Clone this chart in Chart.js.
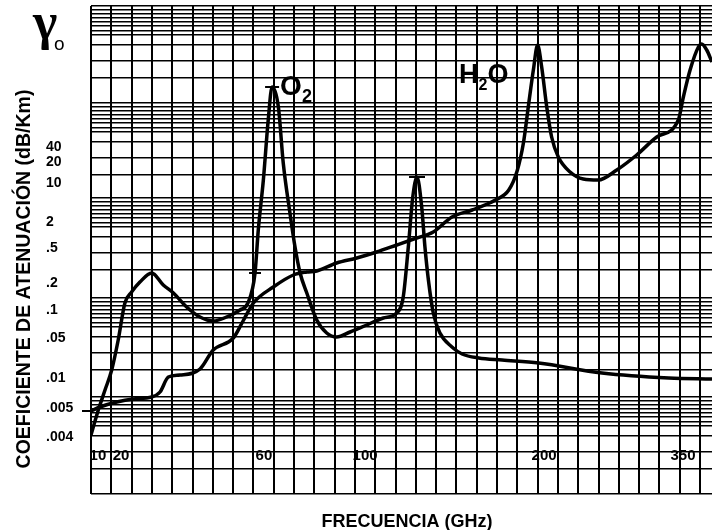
<!DOCTYPE html>
<html>
<head>
<meta charset="utf-8">
<script src="https://cdn.jsdelivr.net/npm/chart.js@4.4.1/dist/chart.umd.min.js"></script>
<style>
  html, body { margin: 0; padding: 0; background: #fff; }
  #wrap { width: 712px; height: 530px; }
</style>
</head>
<body>
<div id="wrap"><canvas id="chart" width="712" height="530"></canvas></div>
<script>
// The sketch's axes are not to scale, so both axes run in graph-paper units:
// x = paper column (one vertical line per unit), y = paper height (bottom = 0).
const freqLabels = ['10', '20', '60', '100', '200', '350'];
const freqLabelPos = [0.34, 1.48, 8.52, 13.5, 22.32, 29.16];
const attLabels = ['40', '20', '10', '2', '.5', '.2', '.1', '.05', '.01', '.005', '.004'];
const attLabelPos = [34.7, 33.2, 31.1, 27.2, 24.6, 21.1, 18.4, 15.6, 11.6, 8.6, 5.7];

// curve labelled O2 (starts at .004)
const o2X = [0, 0.36, 0.69, 1.02, 1.34, 1.67, 2.0, 2.41, 2.99, 3.56, 4.06, 4.71, 5.37, 6.02,
  6.68, 7.34, 7.73, 8.08, 8.24, 8.49, 8.73, 8.92, 9.23, 9.47, 9.8, 10.05, 10.3, 10.63, 11.12,
  11.61, 12.1, 12.76, 13.58, 14.4, 15.06, 15.38, 15.63, 15.85, 16.06, 16.29, 16.45, 16.62,
  16.86, 17.19, 17.78, 18.28, 19.1, 20.25, 22.05, 25.17, 28.46, 30.59];
const o2Y = [5.9, 8.4, 10.4, 12.4, 15.4, 19.1, 20.2, 21.2, 22.1, 20.9, 20.1, 18.7, 17.7, 17.3,
  17.7, 18.4, 19.1, 22.1, 26.4, 31.4, 37.4, 40.7, 38.7, 33.1, 28.1, 24.7, 22.1, 20.1, 17.4,
  16.1, 15.7, 16.2, 16.9, 17.6, 18.1, 19.7, 24.7, 29.7, 31.7, 28.7, 24.7, 21.4,
  18.1, 16.1, 14.7, 14.0, 13.6, 13.4, 13.1, 12.1, 11.6, 11.5];
const o2Marks = [17, 21, 38];

// curve labelled H2O (starts at .005)
const h2oX = [0, 0.44, 1.27, 2.08, 2.99, 3.4, 3.81, 4.38, 5.37, 6.02, 7.01, 7.49, 8.0, 8.98,
  9.97, 10.63, 11.12, 12.1, 13.09, 14.07, 15.06, 16.04, 16.86, 17.78, 18.77, 19.92, 20.58,
  20.99, 21.3, 21.54, 21.79, 22.0, 22.2, 22.45, 22.69, 23.02, 23.6, 24.25, 24.99, 25.9,
  26.88, 27.87, 28.93, 29.18, 29.51, 29.92, 30.08, 30.33, 30.59];
const h2oY = [8.3, 8.7, 9.2, 9.5, 9.7, 10.2, 11.7, 11.9, 12.5, 14.4, 15.6, 17.3, 19.1, 20.7,
  21.9, 22.2, 22.3, 23.1, 23.6, 24.2, 24.9, 25.6, 26.2, 27.7, 28.4, 29.4, 30.4,
  32.3, 35.1, 38.7, 42.4, 44.9, 42.7, 38.7, 35.7, 33.7, 32.2, 31.5, 31.4, 32.4,
  33.9, 35.7, 37.4, 39.7, 42.4, 44.7, 45.0, 44.4, 43.2];

// graph paper rulings
const colLines = Array.from({ length: 31 }, (_, i) => i);
const bandTops = [48.8, 39.1, 29.6, 19.6, 9.7];
const bandSteps = [0, 0.4, 0.8, 1.2, 1.6, 2.0, 2.45, 2.9, 3.9, 5.5, 7.2];
const rowLines = [0];
bandTops.forEach(t => bandSteps.forEach(s => rowLines.push(+(t - s).toFixed(2))));

const markSize = [6, 7, 8];
const FONT = '"Liberation Sans", Arial, sans-serif';

const paperText = {
    id: 'paperText',
    beforeDraw(chart) {
        const ctx = chart.ctx;
        ctx.save();
        ctx.fillStyle = '#fff';
        ctx.fillRect(0, 0, chart.width, chart.height);
        ctx.restore();
    },
    afterDraw(chart) {
        const { ctx, scales: { x, y } } = chart;
        ctx.save();
        ctx.fillStyle = '#000';
        ctx.strokeStyle = '#000';

        // y tick labels
        ctx.font = 'bold 14px ' + FONT;
        ctx.textAlign = 'left';
        ctx.textBaseline = 'middle';
        attLabels.forEach((t, i) => ctx.fillText(t, 46, y.getPixelForValue(attLabelPos[i])));
        // little tick at .005
        ctx.lineWidth = 2;
        ctx.beginPath();
        const y005 = y.getPixelForValue(h2oY[0]);
        ctx.moveTo(82, y005);
        ctx.lineTo(x.getPixelForValue(0), y005);
        ctx.stroke();

        // x tick labels (inside the paper)
        ctx.font = 'bold 15px ' + FONT;
        ctx.textAlign = 'center';
        freqLabels.forEach((t, i) => ctx.fillText(t, x.getPixelForValue(freqLabelPos[i]), y.getPixelForValue(3.8)));

        // axis titles
        ctx.font = 'bold 18px ' + FONT;
        ctx.textBaseline = 'alphabetic';
        ctx.fillText('FRECUENCIA (GHz)', 407, 527);

        ctx.save();
        ctx.translate(30, 279);
        ctx.rotate(-Math.PI / 2);
        ctx.font = 'bold 19.5px ' + FONT;
        ctx.fillText('COEFICIENTE DE ATENUACIÓN (dB/Km)', 0, 0);
        ctx.restore();

        // gamma symbol
        ctx.textAlign = 'left';
        ctx.font = 'bold 52px "Liberation Serif", "Times New Roman", serif';
        ctx.fillText('γ', 33, 39);
        ctx.font = '19px ' + FONT;
        ctx.fillText('o', 54, 50);

        // curve names
        ctx.font = 'bold 28px ' + FONT;
        ctx.fillText('O', 280, 95);
        ctx.font = 'bold 18px ' + FONT;
        ctx.fillText('2', 302, 102);

        ctx.font = 'bold 27px ' + FONT;
        ctx.fillText('H', 459, 83);
        let hx = 459 + ctx.measureText('H').width;
        ctx.font = 'bold 16px ' + FONT;
        ctx.fillText('2', hx, 90);
        hx += ctx.measureText('2').width;
        ctx.font = 'bold 27px ' + FONT;
        ctx.fillText('O', hx, 83);

        ctx.restore();
    }
};

new Chart(document.getElementById('chart'), {
    type: 'line',
    data: {
        datasets: [
            {
                label: 'O2',
                data: o2X.map((v, i) => ({ x: v, y: o2Y[i] })),
                borderColor: '#000',
                borderWidth: 3.5,
                cubicInterpolationMode: 'monotone',
                pointStyle: 'line',
                pointRadius: c => {
                    const k = o2Marks.indexOf(c.dataIndex);
                    return k < 0 ? 0 : markSize[k];
                },
                pointBorderWidth: 2,
                pointBorderColor: '#000',
                fill: false
            },
            {
                label: 'H2O',
                data: h2oX.map((v, i) => ({ x: v, y: h2oY[i] })),
                borderColor: '#000',
                borderWidth: 3.5,
                cubicInterpolationMode: 'monotone',
                pointRadius: 0,
                fill: false
            }
        ]
    },
    options: {
        responsive: false,
        animation: false,
        events: [],
        layout: { padding: { left: 91, right: 0, top: 6, bottom: 36 } },
        plugins: { legend: { display: false }, tooltip: { enabled: false } },
        scales: {
            x: {
                type: 'linear',
                min: 0,
                max: 30.59,
                ticks: { display: false },
                border: { display: false },
                grid: { color: '#000', lineWidth: 2, drawTicks: false },
                afterBuildTicks: s => { s.ticks = colLines.map(v => ({ value: v })); }
            },
            y: {
                type: 'linear',
                min: 0,
                max: 48.8,
                ticks: { display: false },
                border: { display: false },
                grid: { color: '#000', lineWidth: 1.5, drawTicks: false },
                afterBuildTicks: s => { s.ticks = rowLines.map(v => ({ value: v })); }
            }
        }
    },
    plugins: [paperText]
});
</script>
</body>
</html>
